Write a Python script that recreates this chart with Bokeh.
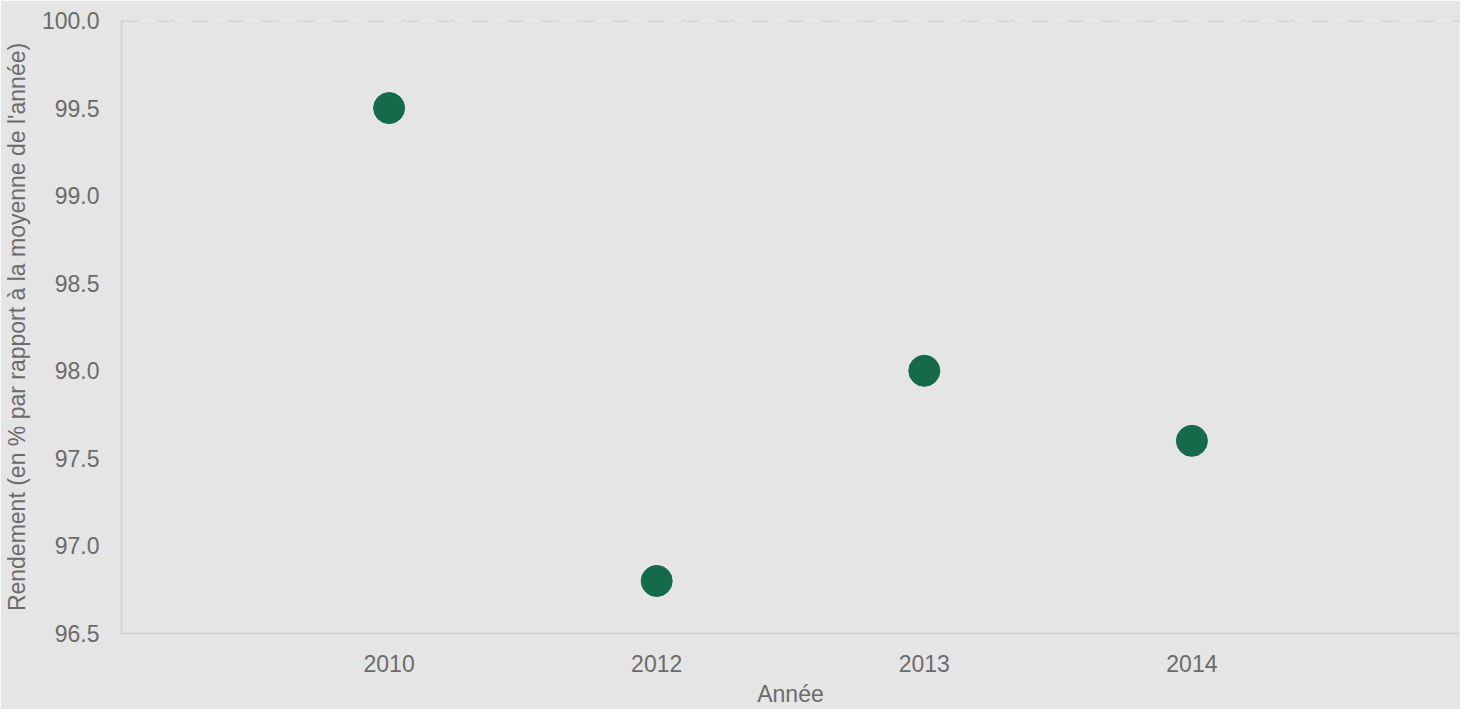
from bokeh.plotting import figure
from bokeh.models import FactorRange, Range1d, Span, FixedTicker, NumeralTickFormatter, ColumnDataSource
from bokeh.embed import file_html
from bokeh.resources import INLINE

years = ["2010", "2012", "2013", "2014"]
rendement = [99.5, 96.8, 98.0, 97.6]
y_ticks = [96.5, 97.0, 97.5, 98.0, 98.5, 99.0, 99.5, 100.0]

BG = "#e5e5e5"
TXT = "#6b6b6b"
FONT = "Liberation Sans"

src = ColumnDataSource(dict(x=years, y=rendement))

p = figure(
    x_range=FactorRange(factors=years, range_padding=0.5, range_padding_units="absolute"),
    y_range=Range1d(96.5, 100.0),
    frame_width=1338, frame_height=613,
    min_border_left=115, min_border_top=20, min_border_right=1, min_border_bottom=71,
    output_backend="svg", toolbar_location=None,
    background_fill_color=BG, border_fill_color=BG,
)
p.outline_line_color = None
p.xgrid.grid_line_color = None
p.ygrid.grid_line_color = None

p.scatter("x", "y", source=src, size=31, fill_color="#156a4a", line_color="#156a4a")

p.add_layout(Span(location=100.0, dimension="width", line_color="#cccccc",
                  line_width=2, line_dash="18 17", level="underlay"))

p.yaxis.ticker = FixedTicker(ticks=y_ticks)
p.yaxis.formatter = NumeralTickFormatter(format="0.0")

for ax in (p.xaxis, p.yaxis):
    ax.axis_line_color = "#cfcfcf"
    ax.axis_line_width = 1.5
    ax.major_tick_line_color = None
    ax.minor_tick_line_color = None
    ax.major_tick_in = 0
    ax.major_tick_out = 0
    ax.major_label_text_font = FONT
    ax.major_label_text_font_size = "23px"
    ax.major_label_text_color = TXT
    ax.axis_label_text_font = FONT
    ax.axis_label_text_font_size = "23px"
    ax.axis_label_text_color = TXT
    ax.axis_label_text_font_style = "normal"

p.xaxis.major_label_standoff = 21
p.yaxis.major_label_standoff = 22
p.xaxis.axis_label = "Année"
p.yaxis.axis_label = "Rendement (en % par rapport à la moyenne de l'année)"
p.xaxis.axis_label_standoff = 6
p.yaxis.axis_label_standoff = 9

open("out.html", "w").write(file_html(p, INLINE))
